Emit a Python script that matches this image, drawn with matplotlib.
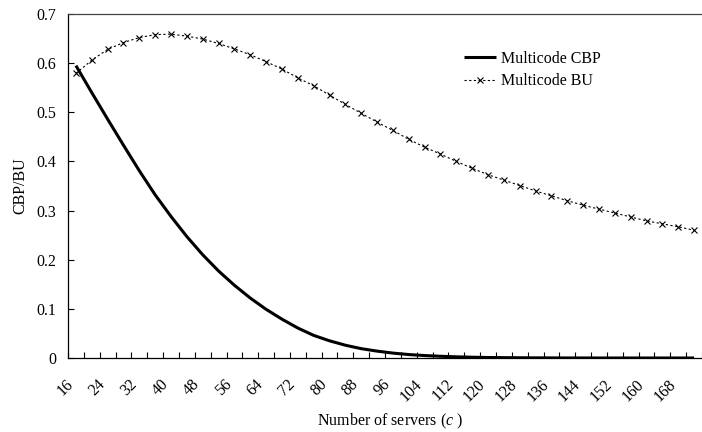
import matplotlib
matplotlib.use("Agg")
import matplotlib.pyplot as plt
import matplotlib.transforms as mtransforms
import numpy as np

plt.rcParams['font.family'] = ['Liberation Serif', 'DejaVu Serif']
plt.rcParams['mathtext.fontset'] = 'custom'
plt.rcParams['mathtext.it'] = 'Liberation Serif:italic'
plt.rcParams['mathtext.rm'] = 'Liberation Serif'

# Number of servers c (categories)
servers = list(range(16, 176, 4))  # 16, 20, ..., 172

cbp = [0.595, 0.540, 0.486, 0.433, 0.381, 0.332, 0.288, 0.247, 0.210, 0.177,
       0.148, 0.122, 0.099, 0.079, 0.061, 0.046, 0.035, 0.026, 0.019, 0.014,
       0.010, 0.007, 0.005, 0.0035, 0.0024, 0.0016, 0.0010, 0.0007, 0.0005, 0.0003,
       0.0002, 0.0001, 0.0001, 0.0, 0.0, 0.0, 0.0, 0.0, 0.0, 0.0]

bu = [0.579, 0.606, 0.628, 0.642, 0.652, 0.658, 0.659, 0.655, 0.649, 0.640,
      0.629, 0.617, 0.603, 0.588, 0.570, 0.554, 0.535, 0.516, 0.498, 0.480,
      0.463, 0.445, 0.429, 0.415, 0.400, 0.386, 0.373, 0.362, 0.351, 0.340,
      0.330, 0.320, 0.311, 0.303, 0.295, 0.287, 0.279, 0.273, 0.267, 0.260]

y_ticks = [0, 0.1, 0.2, 0.3, 0.4, 0.5, 0.6, 0.7]
y_tick_labels = ['0', '0.1', '0.2', '0.3', '0.4', '0.5', '0.6', '0.7']

FS = 11.5
W, H = 702, 432
fig = plt.figure(figsize=(W / 100, H / 100), dpi=100)
left_px, right_px, top_px, bot_px = 68, 702, 14, 358
ax = fig.add_axes([left_px / W, 1 - bot_px / H, (right_px - left_px) / W, (bot_px - top_px) / H])

pos = np.arange(len(servers)) + 0.5
ax.plot(pos, cbp, color='black', lw=2.2, solid_capstyle='butt', label='Multicode CBP', zorder=3)
ax.plot(pos, bu, color='black', lw=0.8, linestyle=(0, (2, 2.2)), marker='x', markersize=4.5,
        markeredgewidth=0.8, label='Multicode BU', zorder=2)

ax.set_xlim(0, (right_px - left_px) / 16)
ax.set_ylim(0, 0.7)

ax.set_yticks(y_ticks)
ax.set_yticklabels(y_tick_labels, fontsize=FS)
ax.set_xticks(np.arange(0, len(servers) + 1))
ax.set_xticklabels([])
ax.tick_params(axis='both', direction='in', length=4, width=0.8, pad=8.5)

for s in ['left', 'bottom', 'top']:
    ax.spines[s].set_linewidth(0.9)
    ax.spines[s].set_color('black')
ax.spines['top'].set_color('#444444')
ax.spines['right'].set_visible(False)

# rotated category labels every 8
trans = mtransforms.blended_transform_factory(ax.transData, ax.transAxes)
offset = mtransforms.ScaledTranslation(-5 / 100, -24 / 100, fig.dpi_scale_trans)
for p, c in zip(pos, servers):
    if c % 8 == 0:
        ax.text(p, 0, str(c), transform=trans + offset, rotation=45, ha='right', va='center',
                rotation_mode='anchor', fontsize=FS, clip_on=False)

fig.text(390 / W, 1 - 421 / H, r'Number of servers ($c$ )', ha='center', va='center', fontsize=FS)
fig.text(20 / W, 1 - 186 / H, 'CBP/BU', ha='center', va='center', rotation=90, fontsize=FS)

leg = ax.legend(loc='upper left', bbox_to_anchor=(464 / W, 1 - 51 / H), bbox_transform=fig.transFigure,
                frameon=False, fontsize=FS, handlelength=2.0, handletextpad=0.3,
                labelspacing=0.4, borderpad=0, borderaxespad=0, markerscale=1.0)

fig.savefig('out.png', dpi=100)
